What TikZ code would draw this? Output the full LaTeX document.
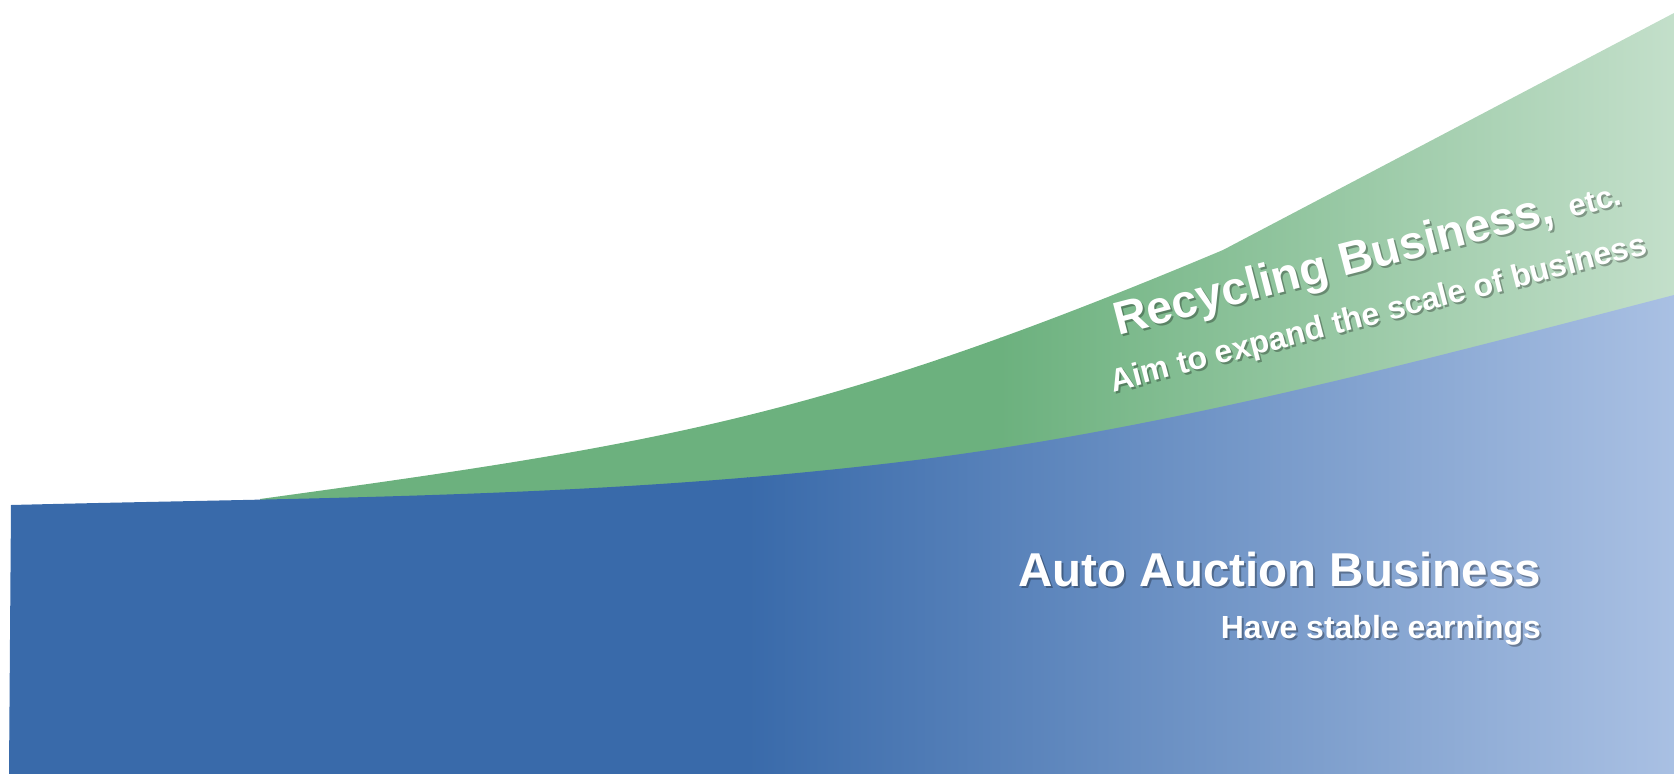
\documentclass[tikz,border=0pt]{standalone}
\usepackage{fontspec}
\setmainfont{Liberation Sans}
\definecolor{blueA}{RGB}{57,106,170}
\definecolor{blueB}{RGB}{169,192,227}
\definecolor{greenA}{RGB}{108,177,126}
\definecolor{greenB}{RGB}{195,223,202}
\tikzset{
  lbl/.style={inner sep=0pt, outer sep=0pt, text=white, font=\bfseries},
  lblshadow/.style={inner sep=0pt, outer sep=0pt, text=black, text opacity=0.3, font=\bfseries},
}
\begin{document}
\begin{tikzpicture}[x=1pt,y=-1pt]
\useasboundingbox (0,0) rectangle (1674,774);
% green band
\begin{scope}
  \clip (260,499) .. controls (660,444) and (823,418) .. (1223,250)
        -- (1674,13) -- (1674,600) -- (260,600) -- cycle;
  \fill[greenA] (250,0) rectangle (1001,774);
  \shade[left color=greenA, right color=greenB] (1000,0) rectangle (1674,774);
\end{scope}
% blue band
\begin{scope}
  \clip (9,774) -- (11,505) .. controls (311,497.5) and (600,498) .. (900,462)
        .. controls (1160,430.8) and (1414,362.6) .. (1674,295)
        -- (1674,774) -- cycle;
  \fill[blueA] (0,0) rectangle (748,774);
  \shade[left color=blueA, right color=blueB] (747,0) rectangle (1674,774);
\end{scope}
% labels: recycling
\node[lblshadow, rotate=14.5, anchor=base west] (recS) at (1120,337)
  {\fontsize{46.5}{56}\selectfont Recycling Business,\hspace{0.35em}{\fontsize{31}{37}\selectfont etc.}};
\node[lbl, rotate=14.5, anchor=base west] (rec) at (1118,335)
  {\fontsize{46.5}{56}\selectfont Recycling Business,\hspace{0.35em}{\fontsize{31}{37}\selectfont etc.}};
\node[lblshadow, rotate=14.5, anchor=base west] (aimS) at (1115,394)
  {\fontsize{32}{38}\selectfont Aim to expand the scale of business};
\node[lbl, rotate=14.5, anchor=base west] (aim) at (1113,392)
  {\fontsize{32}{38}\selectfont Aim to expand the scale of business};
% labels: auction
\node[lblshadow, anchor=base east] (autoS) at (1543,588)
  {\fontsize{47.5}{57}\selectfont Auto Auction Business};
\node[lbl, anchor=base east] (auto) at (1541,586)
  {\fontsize{47.5}{57}\selectfont Auto Auction Business};
\node[lblshadow, anchor=base east] (haveS) at (1543,640)
  {\fontsize{32}{38}\selectfont Have stable earnings};
\node[lbl, anchor=base east] (have) at (1541,638)
  {\fontsize{32}{38}\selectfont Have stable earnings};
\end{tikzpicture}
\end{document}
